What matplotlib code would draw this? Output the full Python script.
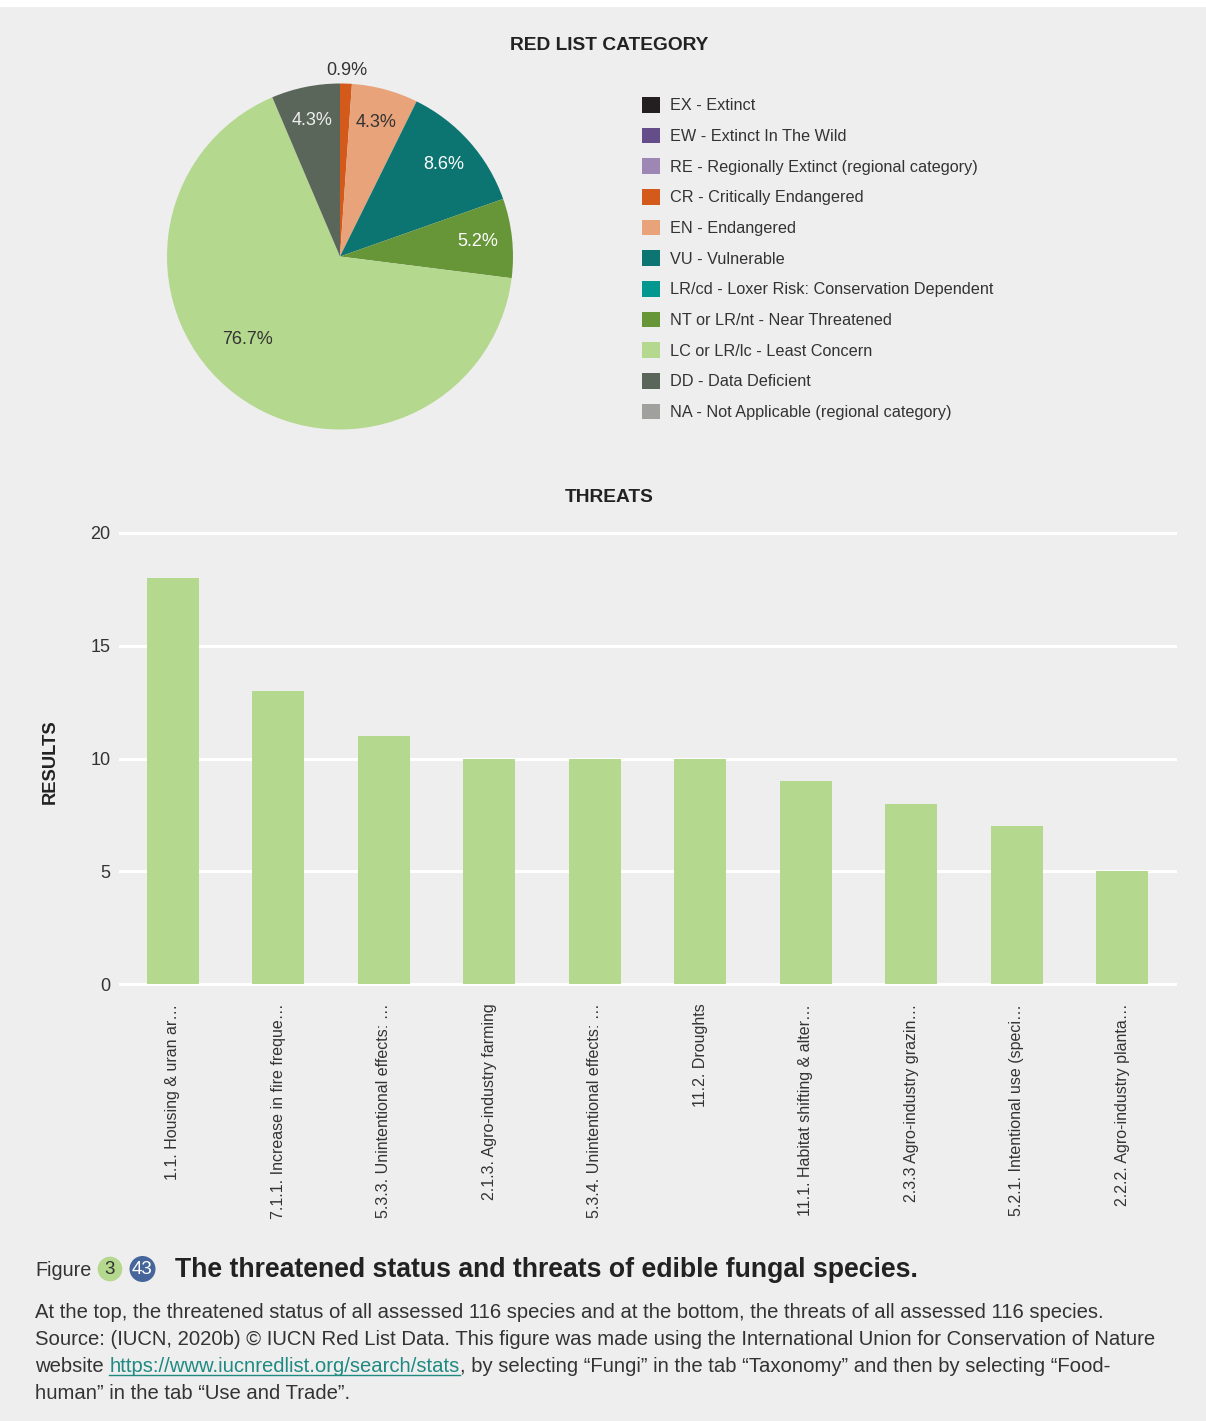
import matplotlib
matplotlib.use('Agg')
import matplotlib.pyplot as plt
from matplotlib.patches import Patch, Circle, Rectangle
from matplotlib.lines import Line2D
import numpy as np

plt.rcParams['font.family'] = ['Liberation Sans', 'DejaVu Sans']

# ---------------- data ----------------
categories = ['EX - Extinct', 'EW - Extinct In The Wild',
              'RE - Regionally Extinct (regional category)',
              'CR - Critically Endangered', 'EN - Endangered', 'VU - Vulnerable',
              'LR/cd - Loxer Risk: Conservation Dependent',
              'NT or LR/nt - Near Threatened', 'LC or LR/lc - Least Concern',
              'DD - Data Deficient', 'NA - Not Applicable (regional category)']
category_colors = ['#231f20', '#644d88', '#9e86b5', '#d45a1b', '#e8a37a', '#0d7571',
                   '#03978f', '#679639', '#b4d88e', '#5b665a', '#a0a09c']
# wedge shares as drawn in the picture (percent of circle)
wedge_share = [0, 0, 0, 1.1, 6.2, 12.3, 0, 7.4, 66.6, 6.4, 0]
wedge_labels = ['', '', '', '0.9%', '4.3%', '8.6%', '', '5.2%', '76.7%', '4.3%', '']

threats = ['1.1. Housing & uran ar…', '7.1.1. Increase in fire freque…',
           '5.3.3. Unintentional effects: …', '2.1.3. Agro-industry farming',
           '5.3.4. Unintentional effects: …', '11.2. Droughts',
           '11.1. Habitat shifting & alter…', '2.3.3 Agro-industry grazin…',
           '5.2.1. Intentional use (speci…', '2.2.2. Agro-industry planta…']
results = [18, 13, 11, 10, 10, 10, 9, 8, 7, 5]
y_ticks = [0, 5, 10, 15, 20]

# ---------------- styles ----------------
W, H = 1206, 1421
BG = '#eeeeee'
TXT = '#333333'
label_colors = {3: TXT, 4: TXT, 5: 'white', 7: 'white', 8: TXT, 9: '#eeeeee'}
label_dist = {3: 1.075, 8: 0.72}
label_shift = {8: -11}

fig = plt.figure(figsize=(W / 100, H / 100), dpi=100)
fig.patch.set_facecolor('white')
fig.add_artist(Rectangle((0, 0), 1, 1 - 7 / H, transform=fig.transFigure,
                         facecolor=BG, edgecolor='none', zorder=-10))

def fx(px):
    return px / W

def fy(py):
    return 1 - py / H

# ---------------- pie ----------------
fig.text(fx(609), fy(45), 'RED LIST CATEGORY', ha='center', va='center',
         fontsize=13.8, fontweight='bold', color='#222222')

cx, cy, r = 340, 256.5, 173
axp = fig.add_axes([fx(cx - r), fy(cy + r), 2 * r / W, 2 * r / H])
idx = [i for i, v in enumerate(wedge_share) if v > 0]
wedges, _ = axp.pie([wedge_share[i] for i in idx],
                    colors=[category_colors[i] for i in idx],
                    startangle=90, counterclock=False, radius=1,
                    wedgeprops=dict(linewidth=0))
axp.set_xlim(-1, 1)
axp.set_ylim(-1, 1)
axp.axis('off')
for w, i in zip(wedges, idx):
    ang = np.deg2rad((w.theta1 + w.theta2) / 2 + label_shift.get(i, 0))
    d = label_dist.get(i, 0.8)
    axp.text(d * np.cos(ang), d * np.sin(ang), wedge_labels[i], ha='center',
             va='center', fontsize=13, color=label_colors.get(i, TXT), clip_on=False)

handles = [Patch(facecolor=c, edgecolor='none') for c in category_colors]
fig.legend(handles, categories, loc='upper left',
           bbox_to_anchor=(fx(642), fy(97)), frameon=False, borderpad=0,
           borderaxespad=0, fontsize=11.7, handlelength=1.11, handleheight=1.11,
           handletextpad=0.6, labelspacing=0.88, labelcolor=TXT)

# ---------------- bars ----------------
fig.text(fx(609), fy(498), 'THREATS', ha='center', va='center',
         fontsize=13.8, fontweight='bold', color='#222222')

x0, x1, yb, yt = 120, 1175, 984.3, 533
axb = fig.add_axes([fx(x0), fy(yb), (x1 - x0) / W, (yb - yt) / H])
axb.set_facecolor('none')
xs = np.arange(len(threats))
axb.bar(xs, results, width=0.493, color='#b4d88e', zorder=3)
axb.set_xlim(-0.5, len(threats) - 0.5)
axb.set_ylim(0, 20)
axb.set_yticks(y_ticks)
axb.set_xticks(xs)
axb.set_xticklabels(threats, rotation=90, fontsize=11.5, color=TXT)
axb.set_axisbelow(True)
axb.grid(axis='y', color='white', linewidth=2.2)
axb.grid(axis='x', visible=False)
for l in axb.get_ygridlines():
    l.set_clip_on(False)
for s in axb.spines.values():
    s.set_visible(False)
axb.tick_params(axis='y', length=0, labelsize=13, labelcolor=TXT, pad=7)
axb.tick_params(axis='x', length=0, pad=14)
fig.text(fx(50), fy(762), 'RESULTS', rotation=90, ha='center', va='center',
         fontsize=13.2, fontweight='bold', color='#222222')

# ---------------- caption ----------------
fig.canvas.draw()
renderer = fig.canvas.get_renderer()

fig.text(fx(35), fy(1276), 'Figure', ha='left', va='baseline', fontsize=14.2, color=TXT)
fig.add_artist(Circle((1.10, (H - 1269) / 100), 0.123, transform=fig.dpi_scale_trans,
                      facecolor='#b4d88e', edgecolor='none'))
fig.text(fx(110), fy(1269), '3', ha='center', va='center', fontsize=13.5, color=TXT)
fig.add_artist(Circle((1.425, (H - 1269) / 100), 0.13, transform=fig.dpi_scale_trans,
                      facecolor='#46659a', edgecolor='none'))
fig.text(fx(142.5), fy(1269), '43', ha='center', va='center', fontsize=13.5, color='white')
fig.text(fx(175), fy(1277), 'The threatened status and threats of edible fungal species.',
         ha='left', va='baseline', fontsize=19.2, fontweight='bold', color='#222222')

body_fs = 14.6
lines = [
    [('At the top, the threatened status of all assessed 116 species and at the bottom, the threats of all assessed 116 species.', TXT, False)],
    [('Source: (IUCN, 2020b) © IUCN Red List Data. This figure was made using the International Union for Conservation of Nature', TXT, False)],
    [('website ', TXT, False), ('https://www.iucnredlist.org/search/stats', '#1f8a82', True),
     (', by selecting “Fungi” in the tab “Taxonomy” and then by selecting “Food-', TXT, False)],
    [('human” in the tab “Use and Trade”.', TXT, False)],
]
baselines = [1318, 1345, 1372, 1399]
for segs, base in zip(lines, baselines):
    xpx = 35
    for s, col, ul in segs:
        t = fig.text(fx(xpx), fy(base), s, ha='left', va='baseline', fontsize=body_fs, color=col)
        bb = t.get_window_extent(renderer)
        if ul:
            fig.add_artist(Line2D([bb.x0 / W, bb.x1 / W], [fy(base + 2.5)] * 2,
                                  transform=fig.transFigure, color=col, linewidth=1))
        xpx = bb.x1

fig.savefig('out.png', dpi=100, facecolor=fig.get_facecolor())
